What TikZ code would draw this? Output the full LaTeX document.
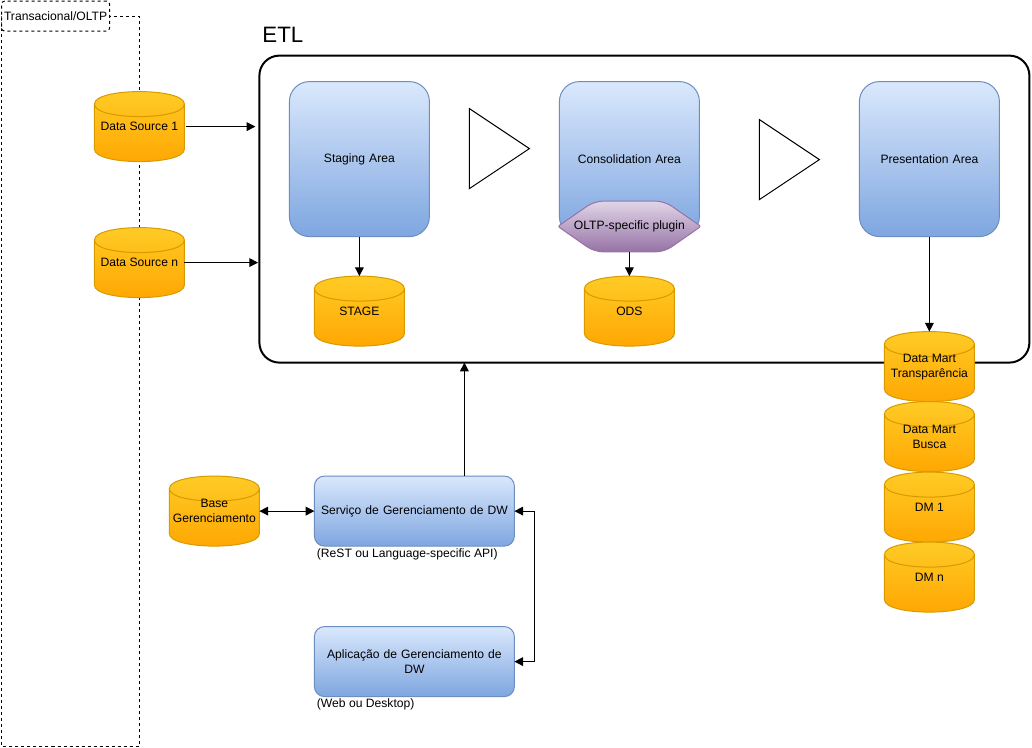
\documentclass[tikz,border=0pt]{standalone}
\usepackage{fontspec}
\setmainfont{Liberation Sans}
\usetikzlibrary{arrows.meta}
\definecolor{orgtop}{HTML}{FFCD28}
\definecolor{orgbot}{HTML}{FFA500}
\definecolor{orgline}{HTML}{D79B00}
\definecolor{blutop}{HTML}{DAE8FC}
\definecolor{blubot}{HTML}{7EA6E0}
\definecolor{bluline}{HTML}{6C8EBF}
\definecolor{purtop}{HTML}{E1D5E7}
\definecolor{purbot}{HTML}{9673A6}
\tikzset{
  txt/.style={font=\fontsize{9.1}{11.25}\selectfont, align=center, inner sep=0pt, outer sep=0pt},
  bluebox/.style={txt, draw=bluline, line width=.75pt, top color=blutop, bottom color=blubot, anchor=north west, text width=#1},
  bluebox/.default=135pt,
  cylshape/.style={draw=orgline, line width=.75pt, top color=orgtop, bottom color=orgbot},
  cyltext/.style={txt, minimum width=67.5pt, minimum height=52.5pt, anchor=north west},
  conn/.style={line width=.75pt, -{Triangle[length=6.5pt,width=6.5pt]}},
  conn2/.style={line width=.75pt, {Triangle[length=6.5pt,width=6.5pt]}-{Triangle[length=6.5pt,width=6.5pt]}},
  dashline/.style={line width=.75pt, dash pattern=on 2.25pt off 2.25pt},
  caption/.style={txt, anchor=west}
}
\newcommand{\cyl}[4]{%
  \path[cylshape, shift={(#2,#3)}] (0,12.5) .. controls (0,-4.17) and (90,-4.17) .. (90,12.5)
    -- (90,57.5) .. controls (90,74.17) and (0,74.17) .. (0,57.5) -- cycle;
  \draw[orgline, line width=.75pt, shift={(#2,#3)}] (0,12.5) .. controls (0,29.17) and (90,29.17) .. (90,12.5);
  \node[cyltext] (#1) at (#2,#3) {#4};
}
\begin{document}
\begin{tikzpicture}[x=0.75pt,y=-0.75pt]
\useasboundingbox (0.6,0.4) rectangle (1032.6,748.4);
\fill[white] (0.6,0.4) rectangle (1032.6,748.4);
% OLTP region
\draw[dashline] (2,16.5) rectangle (139.8,746.4);
\node[draw, dashline, rounded corners=2.25pt, fill=white, txt, anchor=north west, minimum width=81pt, minimum height=22.5pt] (oltp) at (2.2,1.5) {Transacional/OLTP};
% ETL
\node[draw, line width=1.5pt, rounded corners=15pt, anchor=north west, minimum width=577.5pt, minimum height=230.25pt, inner sep=0pt, outer sep=0pt] (etl) at (260,56) {};
\node[txt, font=\fontsize{16.7}{20}\selectfont, anchor=west] (etllabel) at (263,35) {ETL};
% Areas
\node[bluebox=105pt, rounded corners=15pt, minimum height=116.25pt] (staging) at (290,82) {Staging Area};
\node[bluebox=105pt, rounded corners=15pt, minimum height=116.25pt] (consol) at (560,82) {Consolidation Area};
\node[bluebox=105pt, rounded corners=15pt, minimum height=116.25pt] (present) at (860,82) {Presentation Area};
% Triangles
\draw[line width=.75pt, fill=white] (470,109) -- (530,149) -- (470,189) -- cycle;
\draw[line width=.75pt, fill=white] (760,120) -- (820,160) -- (760,200) -- cycle;
% Plugin
\path[draw=purbot, line width=.75pt, top color=purtop, bottom color=purbot]
  (630,201.5) [rounded corners=6.5pt] -- (595,201.5) [rounded corners=1.5pt] -- (558.5,226.8) [rounded corners=6.5pt] -- (595,252.3) -- (665,252.3) [rounded corners=1.5pt] -- (701.5,226.8) [rounded corners=6.5pt] -- (665,201.5) -- cycle;
\node[txt, minimum width=105.75pt, minimum height=38.25pt, anchor=north west] (plugin) at (559.5,201.5) {OLTP-specific plugin};
% Cylinders
\cyl{ds1}{95}{92}{Data Source 1}
\cyl{dsn}{95}{228}{Data Source n}
\cyl{stage}{315}{276.5}{STAGE}
\cyl{ods}{585}{276.5}{ODS}
\cyl{dmt}{885}{332}{Data Mart\\Transparência}
\cyl{dmb}{885}{402}{Data Mart\\Busca}
\cyl{dm1}{885}{472.5}{DM 1}
\cyl{dmn}{885}{542.5}{DM n}
\cyl{base}{170}{476.5}{Base\\Gerenciamento}
% Management
\node[bluebox=150pt, rounded corners=7.5pt, minimum height=52.5pt] (svc) at (315,476.5) {Serviço de Gerenciamento de DW};
\node[bluebox=150pt, rounded corners=7.5pt, minimum height=52.5pt] (app) at (315,627) {Aplicação de Gerenciamento de\\DW};
\node[caption] (svccap) at (317.5,555) {(ReST ou Language-specific API)};
\node[caption] (appcap) at (317.5,705) {(Web ou Desktop)};
% Connectors
\draw[conn, shorten <=1pt, shorten >=3pt] (ds1.east) -- (etl.west |- ds1.east);
\draw[conn, shorten <=0pt, shorten >=1pt] (dsn.east) -- (etl.west |- dsn.east);
\draw[conn] (staging.south) -- (stage.north);
\draw[conn] (plugin.south) -- (ods.north);
\draw[conn] (present.south) -- (dmt.north);
\draw[conn] (svc.north -| 465,0) -- (etl.south -| 465,0);
\draw[conn2] (base.east) -- (svc.west);
\draw[conn2] (svc.east) -- ++(20,0) |- (app.east);
\end{tikzpicture}
\end{document}
